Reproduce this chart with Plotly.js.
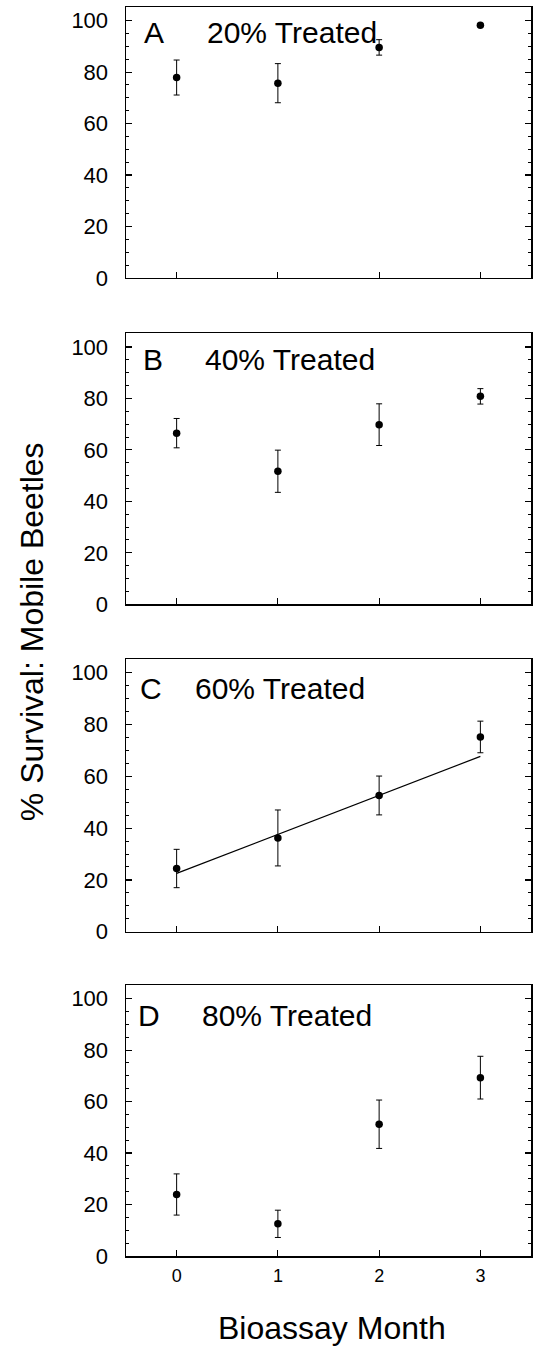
<!DOCTYPE html>
<html>
<head>
<meta charset="utf-8">
<script src="https://cdn.plot.ly/plotly-3.0.1.min.js"></script>
<style>html,body{margin:0;padding:0;background:#fff;}#chart{width:539px;height:1349px;}</style>
</head>
<body>
<div id="chart"></div>
<script>
// Data
const months = [0, 1, 2, 3];
const monthLabels = ["0", "1", "2", "3"];
const panelLetters = ["A", "B", "C", "D"];
const panelTitles = ["20% Treated", "40% Treated", "60% Treated", "80% Treated"];

const survA = [77.9, 75.7, 89.6, 98.2];
const errA  = [6.8, 7.6, 3.0, 0.5];
const survB = [66.5, 51.7, 69.8, 80.8];
const errB  = [5.7, 8.2, 8.1, 3.0];
const survC = [24.4, 36.2, 52.6, 75.2];
const errC  = [7.4, 10.8, 7.5, 6.1];
const survD = [23.9, 12.5, 51.2, 69.3];
const errD  = [8.0, 5.3, 9.4, 8.3];

// Regression line in panel C (end points)
const fitMonthsC = [0, 3];
const fitC = [22.5, 67.7];

const yTicks = [0, 20, 40, 60, 80, 100];

const FONT = "Liberation Sans, Arial, Helvetica, sans-serif";
const series = [survA, survB, survC, survD];
const errors = [errA, errB, errC, errD];

const traces = [];
series.forEach((s, i) => {
  const ax = i === 0 ? "" : String(i + 1);
  traces.push({
    x: months, y: s, type: "scatter", mode: "markers",
    xaxis: "x" + ax, yaxis: "y" + ax,
    marker: {color: "#000", size: 7.5},
    error_y: {type: "data", array: errors[i], visible: true, color: "#000", thickness: 1, width: 3},
    showlegend: false, hoverinfo: "skip"
  });
});
traces.push({
  x: fitMonthsC, y: fitC, type: "scatter", mode: "lines",
  xaxis: "x3", yaxis: "y3",
  line: {color: "#000", width: 1.2},
  showlegend: false, hoverinfo: "skip"
});

// Domains (fractions of plot area, bottom = 0)
const domains = [[0.78303, 1.0], [0.52178, 0.73875], [0.25965, 0.47798], [0.0, 0.21697]];
const letterX = [-0.340, -0.347, -0.384, -0.397];
const titleX = [0.283, 0.257, 0.162, 0.234];
const labelY = [95.5, 95.1, 94.0, 93.6];

const layout = {
  width: 539, height: 1349,
  margin: {l: 125.5, r: 7.5, t: 7, b: 93},
  paper_bgcolor: "#fff", plot_bgcolor: "#fff",
  font: {family: FONT, color: "#000"},
  showlegend: false,
  annotations: []
};

for (let i = 0; i < 4; i++) {
  const ax = i === 0 ? "" : String(i + 1);
  layout["xaxis" + ax] = {
    domain: [0, 1], anchor: "y" + ax,
    range: [-0.5, 3.5],
    tickvals: months, ticktext: monthLabels,
    showticklabels: i === 3,
    ticks: "inside", ticklen: 6, tickwidth: 1.2, tickcolor: "#000",
    showline: true, linecolor: "#000", linewidth: 1.5, mirror: true,
    showgrid: false, zeroline: false,
    tickfont: {family: FONT, size: 18, color: "#000"},
    ticklabelstandoff: 3
  };
  layout["yaxis" + ax] = {
    domain: domains[i], anchor: "x" + ax,
    range: [0, 105.3],
    tickvals: yTicks,
    ticks: "inside", ticklen: 6, tickwidth: 1.2, tickcolor: "#000",
    minor: {dtick: 5, tick0: 0, ticks: "inside", ticklen: 3, tickwidth: 1, tickcolor: "#000", showgrid: false},
    showline: true, linecolor: "#000", linewidth: 1.5, mirror: "allticks",
    showgrid: false, zeroline: false,
    tickfont: {family: FONT, size: 22, color: "#000"},
    ticklabelstandoff: 12
  };
  layout.annotations.push({
    xref: "x" + ax, yref: "y" + ax, x: letterX[i], y: labelY[i],
    xanchor: "left", yanchor: "middle", showarrow: false,
    text: panelLetters[i], font: {family: FONT, size: 30, color: "#000"}
  });
  layout.annotations.push({
    xref: "x" + ax, yref: "y" + ax, x: titleX[i], y: labelY[i],
    xanchor: "left", yanchor: "middle", showarrow: false,
    text: panelTitles[i], font: {family: FONT, size: 30, color: "#000"}
  });
}

layout.annotations.push({
  xref: "paper", yref: "paper", x: -0.2328, y: 0.5,
  xanchor: "center", yanchor: "middle", showarrow: false, textangle: -90,
  text: "% Survival: Mobile Beetles", font: {family: FONT, size: 32, color: "#000"}
});
layout.annotations.push({
  xref: "paper", yref: "paper", x: 0.508, y: -0.0575,
  xanchor: "center", yanchor: "middle", showarrow: false,
  text: "Bioassay Month", font: {family: FONT, size: 32, color: "#000"}
});

Plotly.newPlot("chart", traces, layout, {staticPlot: true, displayModeBar: false});
</script>
</body>
</html>
